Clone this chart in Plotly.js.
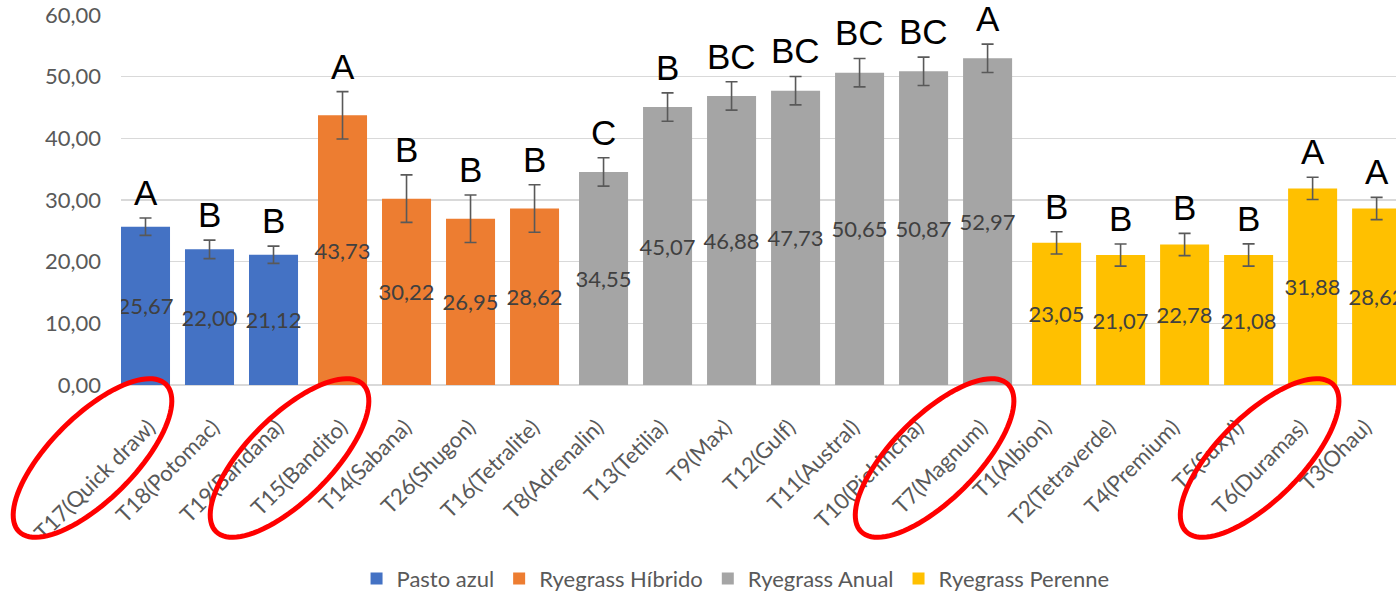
<!DOCTYPE html>
<html><head><meta charset="utf-8">
<script src="https://cdn.plot.ly/plotly-3.0.1.min.js"></script>
<style>html,body{margin:0;padding:0;background:#fff}</style>
</head><body><div id="chart" style="width:1396px;height:593px"></div>
<script>
// ---- data ----
const groupNames = ["Pasto azul", "Ryegrass Híbrido", "Ryegrass Anual", "Ryegrass Perenne"];

const catsPasto = ["T17(Quick draw)", "T18(Potomac)", "T19(Baridana)"];
const valsPasto = [25.67, 22.00, 21.12];
const errPasto = [1.4, 1.5, 1.4];
const lettersPasto = ["A", "B", "B"];

const catsHibrido = ["T15(Bandito)", "T14(Sabana)", "T26(Shugon)", "T16(Tetralite)"];
const valsHibrido = [43.73, 30.22, 26.95, 28.62];
const errHibrido = [3.85, 3.85, 3.85, 3.85];
const lettersHibrido = ["A", "B", "B", "B"];

const catsAnual = ["T8(Adrenalin)", "T13(Tetilia)", "T9(Max)", "T12(Gulf)", "T11(Austral)", "T10(Pichincha)", "T7(Magnum)"];
const valsAnual = [34.55, 45.07, 46.88, 47.73, 50.65, 50.87, 52.97];
const errAnual = [2.3, 2.3, 2.3, 2.3, 2.3, 2.3, 2.3];
const lettersAnual = ["C", "B", "BC", "BC", "BC", "BC", "A"];

const catsPerenne = ["T1(Albion)", "T2(Tetraverde)", "T4(Premium)", "T5(Suxyl)", "T6(Duramas)", "T3(Ohau)"];
const valsPerenne = [23.05, 21.07, 22.78, 21.08, 31.88, 28.62];
const errPerenne = [1.8, 1.8, 1.8, 1.8, 1.8, 1.8];
const lettersPerenne = ["B", "B", "B", "B", "A", "A"];

const highlighted = ["T17(Quick draw)", "T15(Bandito)", "T7(Magnum)", "T6(Duramas)"];
const yTicks = [0, 10, 20, 30, 40, 50, 60];

// ---- styles ----
const colors = ["#4472C4", "#ED7D31", "#A5A5A5", "#FFC000"];
const groups = [
  {cats: catsPasto, vals: valsPasto, err: errPasto, letters: lettersPasto},
  {cats: catsHibrido, vals: valsHibrido, err: errHibrido, letters: lettersHibrido},
  {cats: catsAnual, vals: valsAnual, err: errAnual, letters: lettersAnual},
  {cats: catsPerenne, vals: valsPerenne, err: errPerenne, letters: lettersPerenne}
];
const allCats = [].concat(catsPasto, catsHibrido, catsAnual, catsPerenne);
const BAR_W = 0.766;
const GROUP_SHIFT_PX = 5;
const PX_PER_CAT = 64;
const FONT = "Lato, 'Open Sans', sans-serif";

const traces = groups.map((g, k) => {
  const shiftPx = (k - 1.5) * GROUP_SHIFT_PX;
  return {
    type: 'bar',
    name: groupNames[k],
    x: g.cats,
    y: g.vals,
    width: BAR_W,
    offset: -BAR_W / 2 + shiftPx / PX_PER_CAT,
    marker: {color: colors[k], line: {width: 0}},
    error_y: {type: 'data', array: g.err, visible: true, color: '#595959', thickness: 1.6, width: 6},
    texttemplate: '%{y:.2f}',
    textposition: 'inside',
    insidetextanchor: 'middle',
    textangle: 0,
    constraintext: 'none',
    insidetextfont: {family: FONT, size: 22, color: '#404040'},
    hoverinfo: 'skip'
  };
});

const annotations = [];
groups.forEach((g, k) => {
  const shiftPx = (k - 1.5) * GROUP_SHIFT_PX;
  g.cats.forEach((c, i) => {
    annotations.push({
      x: c, y: g.vals[i] + g.err[i], xref: 'x', yref: 'y',
      text: g.letters[i], showarrow: false,
      xanchor: 'center', yanchor: 'bottom', yshift: 4, xshift: shiftPx,
      font: {family: "'Liberation Sans', Arial, sans-serif", size: 35, color: '#000000'}
    });
  });
});

const layout = {
  width: 1396, height: 593,
  margin: {l: 121, r: 0, t: 15, b: 208, autoexpand: false},
  paper_bgcolor: '#ffffff', plot_bgcolor: '#ffffff',
  separators: ',.',
  barmode: 'overlay',
  showlegend: true,
  legend: {
    orientation: 'h', xref: 'paper', yref: 'container',
    x: 0.482, xanchor: 'center', y: 0.024, yanchor: 'middle',
    font: {family: FONT, size: 22, color: '#595959'},
    itemclick: false, itemdoubleclick: false
  },
  xaxis: {
    type: 'category', categoryorder: 'array', categoryarray: allCats,
    range: [-0.5, 19.42], automargin: false,
    tickangle: -45, ticklabelstandoff: 24, ticklabelshift: -4,
    tickfont: {family: FONT, size: 22, color: '#595959'},
    showgrid: false, showline: false, ticks: '', zeroline: false,
    fixedrange: true
  },
  yaxis: {
    range: [0, 60], automargin: false,
    tickvals: yTicks,
    tickformat: '.2f',
    tickfont: {family: FONT, size: 22, color: '#595959'},
    showgrid: true, gridcolor: '#D9D9D9', gridwidth: 1.3,
    zeroline: true, zerolinecolor: '#D9D9D9', zerolinewidth: 2,
    showline: false, ticks: '', ticklabelstandoff: 19,
    fixedrange: true
  },
  annotations: annotations
};

Plotly.newPlot('chart', traces, layout, {displayModeBar: false, staticPlot: true}).then(gd => {
  const xa = gd._fullLayout.xaxis;
  const A = 104, B = 42;
  const shapes = highlighted.map(name => {
    const idx = allCats.indexOf(name);
    let k = 0;
    groups.forEach((g, gi) => { if (g.cats.indexOf(name) >= 0) k = gi; });
    const shiftPx = (k - 1.5) * GROUP_SHIFT_PX;
    const cx = -53 + shiftPx, cy = -73;
    const s = Math.SQRT1_2;
    let path = '';
    for (let j = 0; j <= 96; j++) {
      const t = 2 * Math.PI * j / 96;
      const px = cx + A * Math.cos(t) * s - B * Math.sin(t) * s;
      const py = cy + A * Math.cos(t) * s + B * Math.sin(t) * s;
      path += (j === 0 ? 'M' : 'L') + px.toFixed(2) + ',' + py.toFixed(2);
    }
    path += 'Z';
    return {
      type: 'path', xref: 'paper', yref: 'paper',
      xsizemode: 'pixel', ysizemode: 'pixel',
      xanchor: xa.c2p(idx) / xa._length, yanchor: 0,
      path: path, line: {color: '#FF0000', width: 5}, layer: 'above'
    };
  });
  return Plotly.relayout(gd, {shapes: shapes});
});
</script>
</body></html>
